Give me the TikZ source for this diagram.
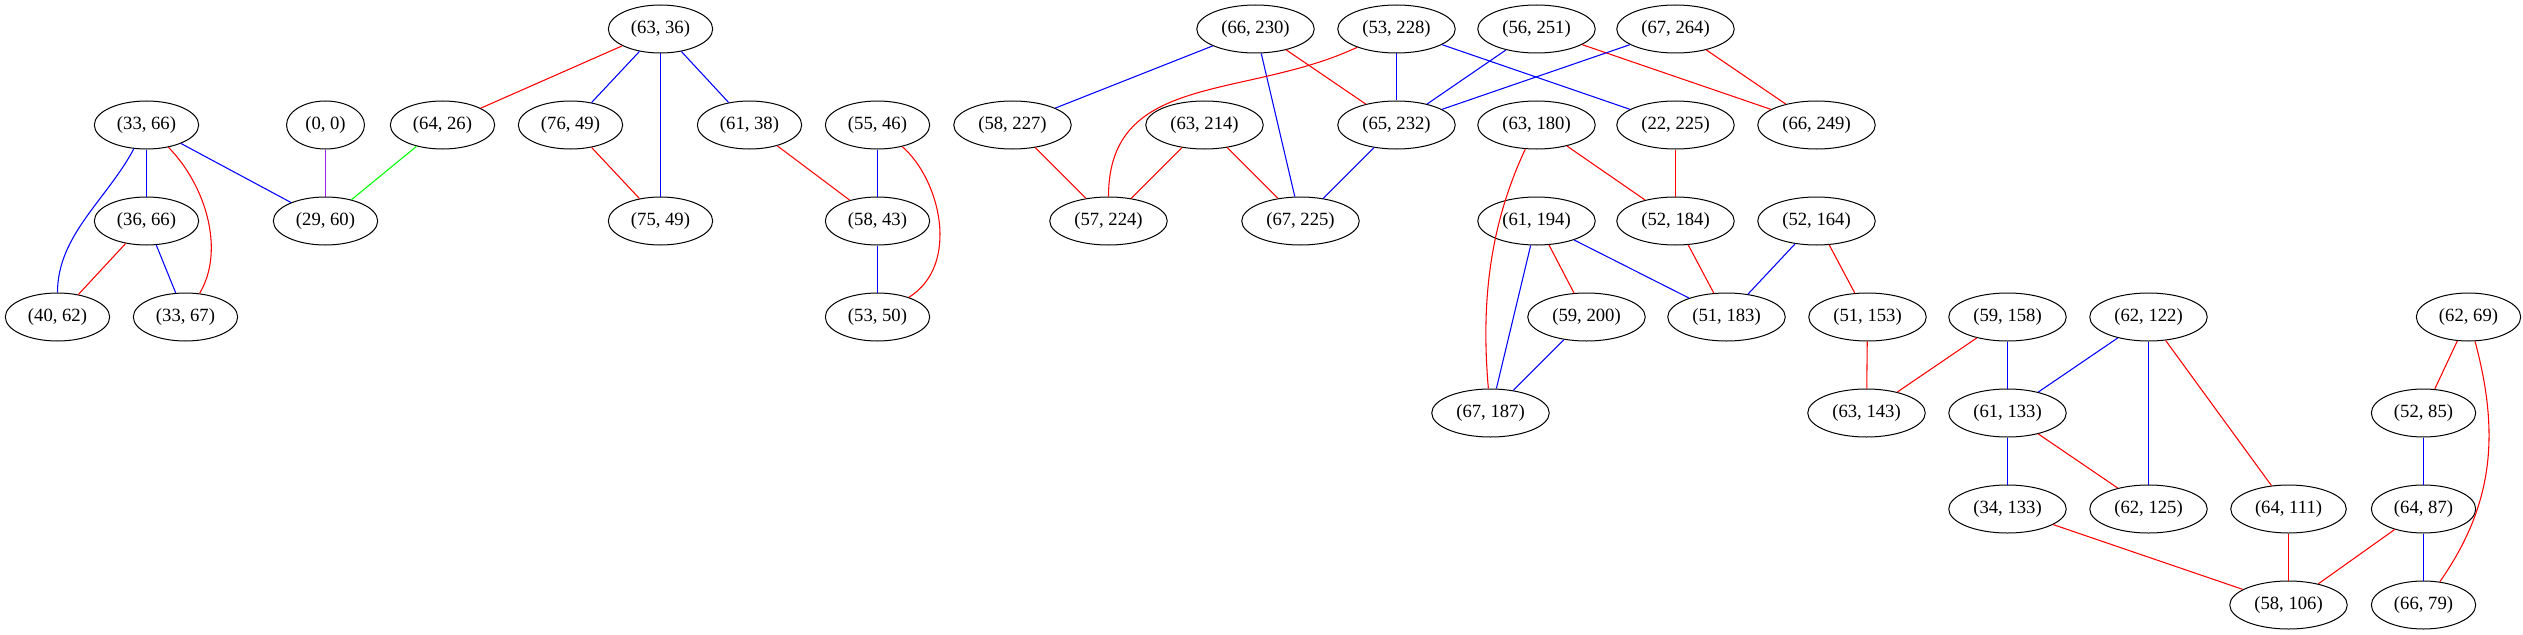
\documentclass[tikz,border=0pt]{standalone}
\usepackage{fontspec}
\setmainfont{Liberation Serif}
\usetikzlibrary{shapes.geometric}
\definecolor{edgered}{RGB}{255,0,0}
\definecolor{edgeblue}{RGB}{0,0,255}
\definecolor{edgegreen}{RGB}{0,255,0}
\definecolor{edgepurple}{RGB}{160,32,240}

\begin{document}
\begin{tikzpicture}[x=0.75pt, y=-0.75pt,
    vertex/.style={ellipse, draw, line width=0.75pt, minimum height=36pt,
        inner xsep=5.5pt, inner ysep=2pt, font=\fontsize{14}{16}\selectfont},
    edge/.style={line width=0.8pt}]
    \useasboundingbox (-0.5,0) rectangle (2522.5,635);

    % Row 0
    \node[vertex] (p63x36)  at (660,29)  {(63, 36)};
    \node[vertex] (p66x230) at (1255,29) {(66, 230)};
    \node[vertex] (p53x228) at (1396,29) {(53, 228)};
    \node[vertex] (p56x251) at (1536,29) {(56, 251)};
    \node[vertex] (p67x264) at (1675,29) {(67, 264)};

    % Row 1
    \node[vertex] (p33x66)  at (146,125)  {(33, 66)};
    \node[vertex] (p0x0)    at (325,125)  {(0, 0)};
    \node[vertex] (p64x26)  at (442,125)  {(64, 26)};
    \node[vertex] (p76x49)  at (570,125)  {(76, 49)};
    \node[vertex] (p61x38)  at (749,125)  {(61, 38)};
    \node[vertex] (p55x46)  at (877,125)  {(55, 46)};
    \node[vertex] (p58x227) at (1012,125) {(58, 227)};
    \node[vertex] (p63x214) at (1204,125) {(63, 214)};
    \node[vertex] (p65x232) at (1396,125) {(65, 232)};
    \node[vertex] (p63x180) at (1536,125) {(63, 180)};
    \node[vertex] (p22x225) at (1675,125) {(22, 225)};
    \node[vertex] (p66x249) at (1816,125) {(66, 249)};

    % Row 2
    \node[vertex] (p36x66)  at (146,221)  {(36, 66)};
    \node[vertex] (p29x60)  at (325,221)  {(29, 60)};
    \node[vertex] (p75x49)  at (660,221)  {(75, 49)};
    \node[vertex] (p58x43)  at (877,221)  {(58, 43)};
    \node[vertex] (p57x224) at (1108,221) {(57, 224)};
    \node[vertex] (p67x225) at (1300,221) {(67, 225)};
    \node[vertex] (p61x194) at (1536,221) {(61, 194)};
    \node[vertex] (p52x184) at (1675,221) {(52, 184)};
    \node[vertex] (p52x164) at (1816,221) {(52, 164)};

    % Row 3
    \node[vertex] (p40x62)  at (57,317)   {(40, 62)};
    \node[vertex] (p33x67)  at (185,317)  {(33, 67)};
    \node[vertex] (p53x50)  at (877,317)  {(53, 50)};
    \node[vertex] (p59x200) at (1586,317) {(59, 200)};
    \node[vertex] (p51x183) at (1726,317) {(51, 183)};
    \node[vertex] (p51x153) at (1867,317) {(51, 153)};
    \node[vertex] (p59x158) at (2007,317) {(59, 158)};
    \node[vertex] (p62x122) at (2148,317) {(62, 122)};
    \node[vertex] (p62x69)  at (2468,317) {(62, 69)};

    % Row 4
    \node[vertex] (p67x187) at (1490,413) {(67, 187)};
    \node[vertex] (p63x143) at (1866,413) {(63, 143)};
    \node[vertex] (p61x133) at (2007,413) {(61, 133)};
    \node[vertex] (p52x85)  at (2423,413) {(52, 85)};

    % Row 5
    \node[vertex] (p34x133) at (2007,509) {(34, 133)};
    \node[vertex] (p62x125) at (2148,509) {(62, 125)};
    \node[vertex] (p64x111) at (2288,509) {(64, 111)};
    \node[vertex] (p64x87)  at (2423,509) {(64, 87)};

    % Row 6
    \node[vertex] (p58x106) at (2288,605) {(58, 106)};
    \node[vertex] (p66x79)  at (2423,605) {(66, 79)};

    % Red edges
    \foreach \a/\b in {p63x36/p64x26, p76x49/p75x49, p61x38/p58x43,
        p36x66/p40x62, p66x230/p65x232, p56x251/p66x249, p67x264/p66x249,
        p58x227/p57x224, p63x214/p57x224, p63x214/p67x225, p63x180/p52x184,
        p22x225/p52x184, p61x194/p59x200, p52x184/p51x183, p52x164/p51x153,
        p51x153/p63x143, p59x158/p63x143, p62x122/p64x111, p61x133/p62x125,
        p62x69/p52x85, p34x133/p58x106, p64x111/p58x106, p64x87/p58x106} {
        \draw[edge, edgered] (\a) -- (\b);
    }

    % Blue edges
    \foreach \a/\b in {p63x36/p76x49, p63x36/p75x49, p63x36/p61x38,
        p33x66/p36x66, p33x66/p29x60, p55x46/p58x43, p58x43/p53x50,
        p36x66/p33x67, p66x230/p58x227, p66x230/p67x225, p53x228/p65x232,
        p53x228/p22x225, p56x251/p65x232, p67x264/p65x232, p65x232/p67x225,
        p61x194/p67x187, p61x194/p51x183, p52x164/p51x183, p59x200/p67x187,
        p59x158/p61x133, p62x122/p61x133, p62x122/p62x125, p61x133/p34x133,
        p52x85/p64x87, p64x87/p66x79} {
        \draw[edge, edgeblue] (\a) -- (\b);
    }

    % Other colours
    \draw[edge, edgepurple] (p0x0) -- (p29x60);
    \draw[edge, edgegreen] (p64x26) -- (p29x60);

    % Curved edges
    \draw[edge, edgeblue] (p33x66) to[out=-118, in=90, looseness=0.9] (p40x62);
    \draw[edge, edgered] (p33x66) .. controls (205,185) and (225,250) .. (p33x67);
    \draw[edge, edgered] (p55x46) .. controls (940,180) and (960,265) .. (p53x50);
    \draw[edge, edgered] (p53x228) to[out=-155, in=90, looseness=1.1] (p57x224);
    \draw[edge, edgered] (p63x180) to[out=-115, in=95, looseness=0.9] (p67x187);
    \draw[edge, edgered] (p62x69) to[out=-75, in=55, looseness=1] (p66x79);
\end{tikzpicture}
\end{document}
